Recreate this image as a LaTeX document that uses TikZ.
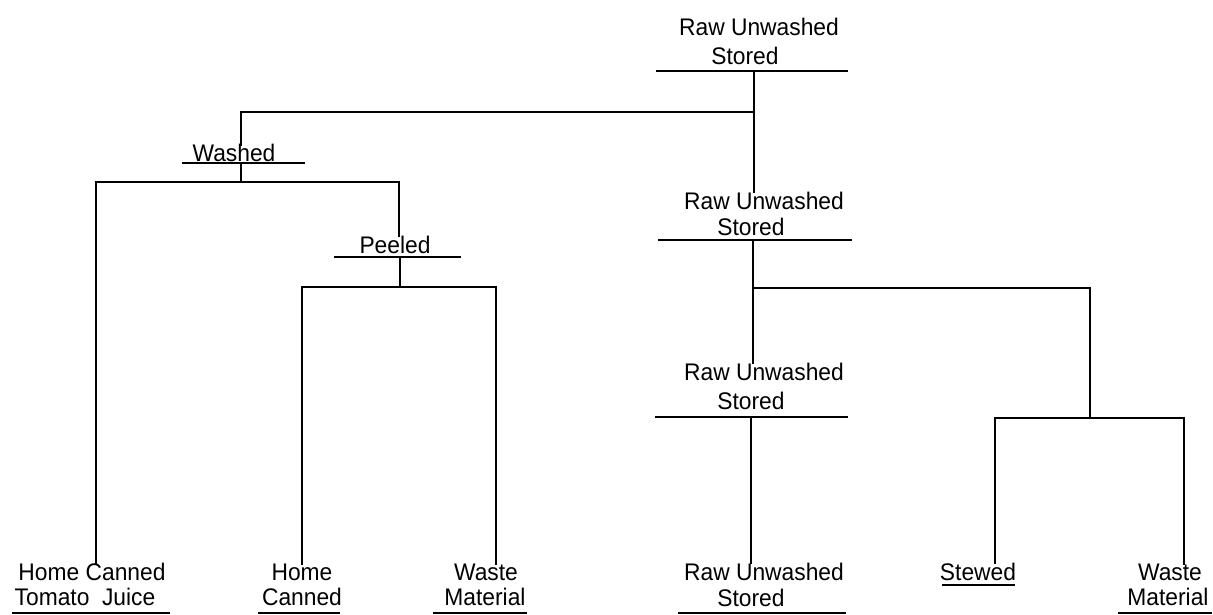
\documentclass[tikz,border=0pt]{standalone}
\usepackage{fontspec}
\setmainfont{Liberation Sans}[FakeStretch=0.95]
\begin{document}
\begin{tikzpicture}[x=1pt,y=-1pt,
  lbl/.style={font=\fontsize{24}{28}\selectfont, inner sep=0pt, anchor=base},
  ln/.style={line width=2.6pt, line cap=rect},
  ul/.style={line width=2.2pt}]
\useasboundingbox (0,0) rectangle (1213,615);

% ---- text nodes ----
\node[lbl] (r1a) at (759,36) {Raw Unwashed};
\node[lbl] (r1b) at (745,65) {Stored};
\node[lbl] (wa) at (234,162) {Washed};
\node[lbl] (pe) at (395,253) {Peeled};
\node[lbl] (r2a) at (764,209) {Raw Unwashed};
\node[lbl] (r2b) at (751,235) {Stored};
\node[lbl] (r3a) at (764,380) {Raw Unwashed};
\node[lbl] (r3b) at (751,409) {Stored};
% bottom
\node[lbl] (hca) at (92,580) {Home Canned};
\node[lbl] (hcb) at (85,605) {Tomato\ \ Juice};
\node[lbl] (hoa) at (302,580) {Home};
\node[lbl] (hob) at (302,605) {Canned};
\node[lbl] (w1a) at (486,580) {Waste};
\node[lbl] (w1b) at (485,605) {Material};
\node[lbl] (r4a) at (764,580) {Raw Unwashed};
\node[lbl] (r4b) at (751,606) {Stored};
\node[lbl] (st) at (978,580) {Stewed};
\node[lbl] (w2a) at (1170,580) {Waste};
\node[lbl] (w2b) at (1168,605) {Material};

% ---- bars and stems ----
\coordinate (b1) at (754,71);
\coordinate (b2) at (753,240);
\coordinate (b3) at (751,417);
\coordinate (bw) at (241,163);
\coordinate (bp) at (400,257);
\coordinate (j1) at (754,112);
\coordinate (jw) at (241,182);
\coordinate (jp) at (400,287);
\coordinate (j2) at (753,288);
\coordinate (js) at (1090,418);

\draw[ln] (657,71) -- (847,71);
\draw[ln] (659,240) -- (851,240);
\draw[ln] (656,417) -- (847,417);
\draw[ln] (183,163) -- (304,163);
\draw[ln] (335,257) -- (460,257);

% underlines of bottom labels
\draw[ul] (12,613) -- (170,613);
\draw[ul] (258,613) -- (340,613);
\draw[ul] (433,613) -- (527,613);
\draw[ul] (678,613) -- (846,613);
\draw[ul] (942,585) -- (1015,585);
\draw[ul] (1118,613) -- (1212,613);

% ---- connectors ----
\draw[ln] (b1) -- (r2a.north -| b1);
\draw[ln] (j1) -- (j1 -| bw) -- (wa.north -| bw);
\draw[ln] (bw) -- (jw);
\draw[ln] (96,182) coordinate (jwl) -- (399,182) coordinate (jwr);
\draw[ln] (jwl) -- (jwl |- hca.north);
\draw[ln] (jwr) -- (jwr |- pe.north);
\draw[ln] (bp) -- (jp);
\draw[ln] (302,287) coordinate (jpl) -- (496,287) coordinate (jpr);
\draw[ln] (jpl) -- (jpl |- hoa.north);
\draw[ln] (jpr) -- (jpr |- w1a.north);
\draw[ln] (b2) -- (b2 |- r3a.north);
\draw[ln] (j2) -- (j2 -| js) -- (js);
\draw[ln] (995,418) coordinate (jsl) -- (1184,418) coordinate (jsr);
\draw[ln] (jsl) -- (jsl |- st.north);
\draw[ln] (jsr) -- (jsr |- w2a.north);
\draw[ln] (b3) -- (b3 |- r4a.north);
\end{tikzpicture}
\end{document}
